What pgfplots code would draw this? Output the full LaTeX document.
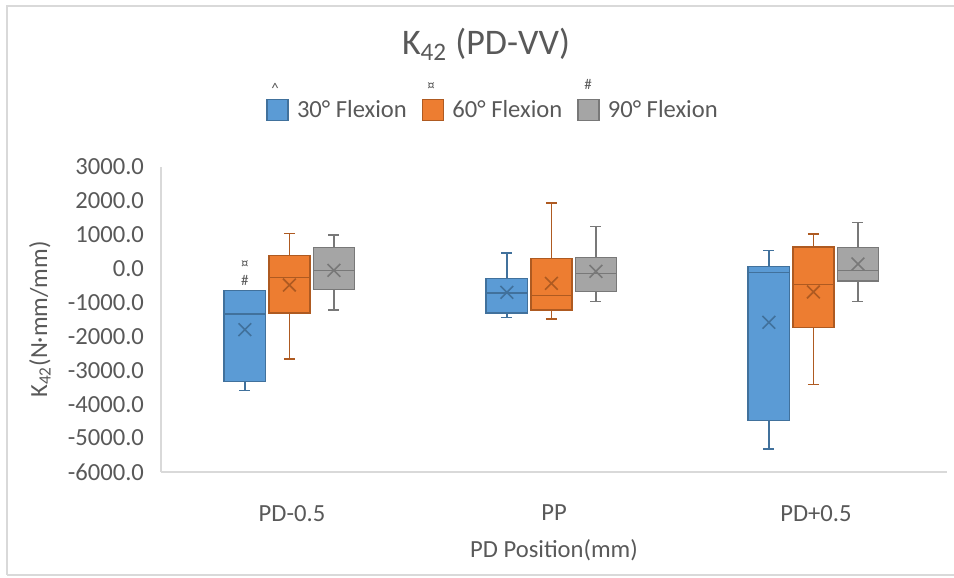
\documentclass[border=0pt]{standalone}
\usepackage{pgfplots}
\pgfplotsset{compat=1.18}
\usepackage{fontspec}
\setmainfont{Carlito}
\definecolor{textgray}{HTML}{595959}
\definecolor{axgray}{HTML}{D9D9D9}
\definecolor{bfill}{HTML}{5B9BD5}
\definecolor{bdraw}{HTML}{41719C}
\definecolor{ofill}{HTML}{ED7D31}
\definecolor{odraw}{HTML}{AE5A21}
\definecolor{gfill}{HTML}{A5A5A5}
\definecolor{gdraw}{HTML}{787878}
\newcommand{\lblfont}{\fontsize{12.3}{14}\selectfont}
\newcommand{\sigfont}{\fontsize{7.5}{9}\selectfont}
\pgfplotsset{
  bxs/.style={forget plot, fill=#1fill, draw=#1draw, line width=0.8pt, mark=none},
  wks/.style={forget plot, draw=#1draw, line width=0.8pt, mark=none, unbounded coords=jump},
  mn/.style={forget plot, only marks, mark=x, mark size=4.5pt, line width=0.8pt, draw=#1draw},
}
\begin{document}
\color{textgray}
\begin{tikzpicture}
\useasboundingbox (0,0) rectangle (477pt,289pt);
\draw[axgray, line width=0.8pt] (3.5pt,1.5pt) -- (3.5pt,286pt) -- (477pt,286pt);
\draw[axgray, line width=0.8pt] (3.5pt,1.5pt) -- (477pt,1.5pt);
\begin{axis}[
  at={(80.5pt,53pt)}, anchor=south west,
  scale only axis, width=393pt, height=152.5pt,
  xmin=0, xmax=3, ymin=-6000, ymax=3000,
  axis lines*=left,
  axis line style={draw=axgray, line width=0.8pt},
  major tick length=0pt,
  xtick={0.5,1.5,2.5},
  xticklabels={PD-0.5,PP,PD+0.5},
  ytick={-6000,-5000,...,3000},
  /pgf/number format/assume math mode=true,
  /pgf/number format/.cd, fixed, fixed zerofill, precision=1, 1000 sep={},
  /pgfplots/.cd,
  tick label style={font=\lblfont, text=textgray},
  yticklabel style={xshift=-5pt},
  xticklabel style={yshift=-13pt},
  every axis y label/.style={at={(rel axis cs:-0.154,0.5)}, rotate=90, anchor=center, font=\lblfont, text=textgray},
  every axis x label/.style={at={(rel axis cs:0.5,0)}, yshift=-39pt, anchor=center, font=\lblfont, text=textgray},
  ylabel={K\textsubscript{42}(N·mm/mm)},
  xlabel={PD Position(mm)},
  legend columns=3,
  legend style={at={(0.1336,1.187)}, anchor=west, draw=none, fill=none, inner sep=0pt,
    font=\lblfont, text=textgray,
    /tikz/every odd column/.append style={column sep=4pt},
    /tikz/every even column/.append style={column sep=7.5pt},
    nodes={inner sep=0pt}},
  legend image code/.code={\draw[#1] (0pt,-5.25pt) rectangle (10.5pt,5.25pt);},
]
% legend images
\addlegendimage{fill=bfill, draw=bdraw, line width=0.8pt}
\addlegendimage{fill=ofill, draw=odraw, line width=0.8pt}
\addlegendimage{fill=gfill, draw=gdraw, line width=0.8pt}
\legend{30° Flexion, 60° Flexion, 90° Flexion}
% ===== PD-0.5 =====
% 30: lw -3599, q1 -3324, med -1336, q3 -649, uw -649
\addplot[bxs=b] coordinates {(0.2415,-3324) (0.3985,-3324) (0.3985,-649) (0.2415,-649)} --cycle;
\addplot[wks=b] coordinates {(0.2415,-1336) (0.3985,-1336) (nan,nan) (0.32,-3324) (0.32,-3599) (nan,nan) (0.299,-3599) (0.341,-3599)};
% 60: lw -2664, q1 -1307, med -256, q3 383, uw 1041
\addplot[bxs=o] coordinates {(0.4115,-1307) (0.5685,-1307) (0.5685,383) (0.4115,383)} --cycle;
\addplot[wks=o] coordinates {(0.4115,-256) (0.5685,-256) (nan,nan) (0.49,383) (0.49,1041) (nan,nan) (0.469,1041) (0.511,1041) (nan,nan) (0.49,-1307) (0.49,-2664) (nan,nan) (0.469,-2664) (0.511,-2664)};
% 90: lw -1219, q1 -619, med -59, q3 619, uw 993
\addplot[bxs=g] coordinates {(0.5815,-619) (0.7385,-619) (0.7385,619) (0.5815,619)} --cycle;
\addplot[wks=g] coordinates {(0.5815,-59) (0.7385,-59) (nan,nan) (0.66,619) (0.66,993) (nan,nan) (0.639,993) (0.681,993) (nan,nan) (0.66,-619) (0.66,-1219) (nan,nan) (0.639,-1219) (0.681,-1219)};
% ===== PP =====
% 30: lw -1436, q1 -1307, med -718, q3 -295, uw 463
\addplot[bxs=b] coordinates {(1.2415,-1307) (1.3985,-1307) (1.3985,-295) (1.2415,-295)} --cycle;
\addplot[wks=b] coordinates {(1.2415,-718) (1.3985,-718) (nan,nan) (1.32,-295) (1.32,463) (nan,nan) (1.299,463) (1.341,463) (nan,nan) (1.32,-1307) (1.32,-1436) (nan,nan) (1.299,-1436) (1.341,-1436)};
% 60: lw -1484, q1 -1219, med -796, q3 295, uw 1938
\addplot[bxs=o] coordinates {(1.4115,-1219) (1.5685,-1219) (1.5685,295) (1.4115,295)} --cycle;
\addplot[wks=o] coordinates {(1.4115,-796) (1.5685,-796) (nan,nan) (1.49,295) (1.49,1938) (nan,nan) (1.469,1938) (1.511,1938) (nan,nan) (1.49,-1219) (1.49,-1484) (nan,nan) (1.469,-1484) (1.511,-1484)};
% 90: lw -964, q1 -669, med -138, q3 334, uw 1239
\addplot[bxs=g] coordinates {(1.5815,-669) (1.7385,-669) (1.7385,334) (1.5815,334)} --cycle;
\addplot[wks=g] coordinates {(1.5815,-138) (1.7385,-138) (nan,nan) (1.66,334) (1.66,1239) (nan,nan) (1.639,1239) (1.681,1239) (nan,nan) (1.66,-669) (1.66,-964) (nan,nan) (1.639,-964) (1.681,-964)};
% ===== PD+0.5 =====
% 30: lw -5319, q1 -4475, med -109, q3 68, uw 531
\addplot[bxs=b] coordinates {(2.2415,-4475) (2.3985,-4475) (2.3985,68) (2.2415,68)} --cycle;
\addplot[wks=b] coordinates {(2.2415,-109) (2.3985,-109) (nan,nan) (2.32,68) (2.32,531) (nan,nan) (2.299,531) (2.341,531) (nan,nan) (2.32,-4475) (2.32,-5319) (nan,nan) (2.299,-5319) (2.341,-5319)};
% 60: lw -3422, q1 -1740, med -472, q3 639, uw 1023
\addplot[bxs=o] coordinates {(2.4115,-1740) (2.5685,-1740) (2.5685,639) (2.4115,639)} --cycle;
\addplot[wks=o] coordinates {(2.4115,-472) (2.5685,-472) (nan,nan) (2.49,639) (2.49,1023) (nan,nan) (2.469,1023) (2.511,1023) (nan,nan) (2.49,-1740) (2.49,-3422) (nan,nan) (2.469,-3422) (2.511,-3422)};
% 90: lw -973, q1 -364, med -59, q3 629, uw 1366
\addplot[bxs=g] coordinates {(2.5815,-364) (2.7385,-364) (2.7385,629) (2.5815,629)} --cycle;
\addplot[wks=g] coordinates {(2.5815,-59) (2.7385,-59) (nan,nan) (2.66,629) (2.66,1366) (nan,nan) (2.639,1366) (2.681,1366) (nan,nan) (2.66,-364) (2.66,-973) (nan,nan) (2.639,-973) (2.681,-973)};
% means
\addplot[mn=b] coordinates {(0.32,-1800) (1.32,-698) (2.32,-1583)};
\addplot[mn=o] coordinates {(0.49,-482) (1.49,-433) (2.49,-688)};
\addplot[mn=g] coordinates {(0.66,-50) (1.66,-80) (2.66,138)};
% significance annotations
\node[font=\sigfont, text=textgray] at (axis cs:0.32,118) {¤};
\node[font=\sigfont, text=textgray] at (axis cs:0.32,-354) {\#};
\end{axis}
% title
\node[anchor=base, font=\fontsize{18}{21}\selectfont, text=textgray] at (243pt,261.5pt) {K\textsubscript{42} (PD-VV)};
% legend superscript markers
\node[font=\sigfont, text=textgray] at (137.5pt,245pt) {\^{}};
\node[font=\sigfont, text=textgray] at (215.5pt,245.5pt) {¤};
\node[font=\sigfont, text=textgray] at (294pt,247pt) {\#};
\end{tikzpicture}
\end{document}
